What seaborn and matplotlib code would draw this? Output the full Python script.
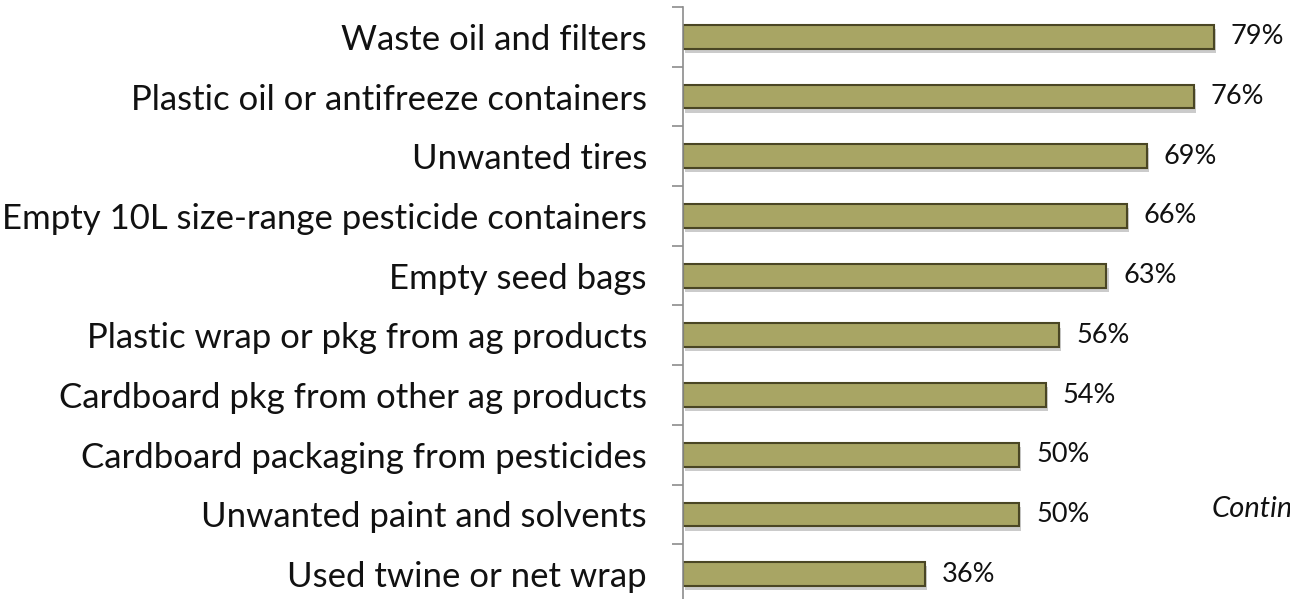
import matplotlib
matplotlib.use("Agg")
import matplotlib.pyplot as plt
import seaborn as sns
import pandas as pd
import numpy as np
import matplotlib.patheffects as pe

categories = [
    "Waste oil and filters",
    "Plastic oil or antifreeze containers",
    "Unwanted tires",
    "Empty 10L size-range pesticide containers",
    "Empty seed bags",
    "Plastic wrap or pkg from ag products",
    "Cardboard pkg from other ag products",
    "Cardboard packaging from pesticides",
    "Unwanted paint and solvents",
    "Used twine or net wrap",
]
values = [79, 76, 69, 66, 63, 56, 54, 50, 50, 36]
value_labels = ["79%", "76%", "69%", "66%", "63%", "56%", "54%", "50%", "50%", "36%"]

df = pd.DataFrame({"category": categories, "value": values})

sns.set_theme(style="white")
plt.rcParams['font.family'] = ['Lato', 'DejaVu Sans']

W, H = 1290, 599
fig = plt.figure(figsize=(W / 100, H / 100), dpi=100)
left_px, right_px = 683, 1290
top_px, bot_px = 7, 604
px_per_unit = (1214 - 683) / 79.0
ax = fig.add_axes([left_px / W, 1 - bot_px / H, (right_px - left_px) / W, (bot_px - top_px) / H])

bar_color = "#A8A564"
sns.barplot(data=df, x="value", y="category", orient="h", ax=ax,
            color=bar_color, saturation=1, width=0.40,
            edgecolor="#4A4624", linewidth=1.5)

for p in ax.patches:
    p.set_path_effects([pe.SimplePatchShadow(offset=(1.5, -3), alpha=0.3, shadow_rgbFace="#555555"), pe.Normal()])

ax.set_xlim(0, (right_px - left_px) / px_per_unit)
ax.set_ylim(len(categories) - 0.5, -0.5)
ax.set_xlabel("")
ax.set_ylabel("")
ax.set_xticks([])

for sp in ["top", "right", "bottom"]:
    ax.spines[sp].set_visible(False)
ax.spines["left"].set_color("#8C8C8C")
ax.spines["left"].set_linewidth(1.2)

ax.set_yticks(range(len(categories)))
ax.set_yticklabels(categories, fontsize=25, color="#111111")
ax.tick_params(axis="y", which="major", left=True, length=0, pad=26)
ax.set_yticks(np.arange(-0.5, len(categories), 1), minor=True)
ax.tick_params(axis="y", which="minor", left=True, length=8, width=1.2, color="#8C8C8C", direction="out")

for i, (v, lab) in enumerate(zip(values, value_labels)):
    ax.text(v + 17 / px_per_unit, i, lab, va="center", ha="left", fontsize=19.5, color="#111111")

fig.text(1212 / W, 1 - 517 / H, "Continued", fontsize=21, style="italic", va="baseline", ha="left", color="#111111")

fig.savefig("out.png", dpi=100)
